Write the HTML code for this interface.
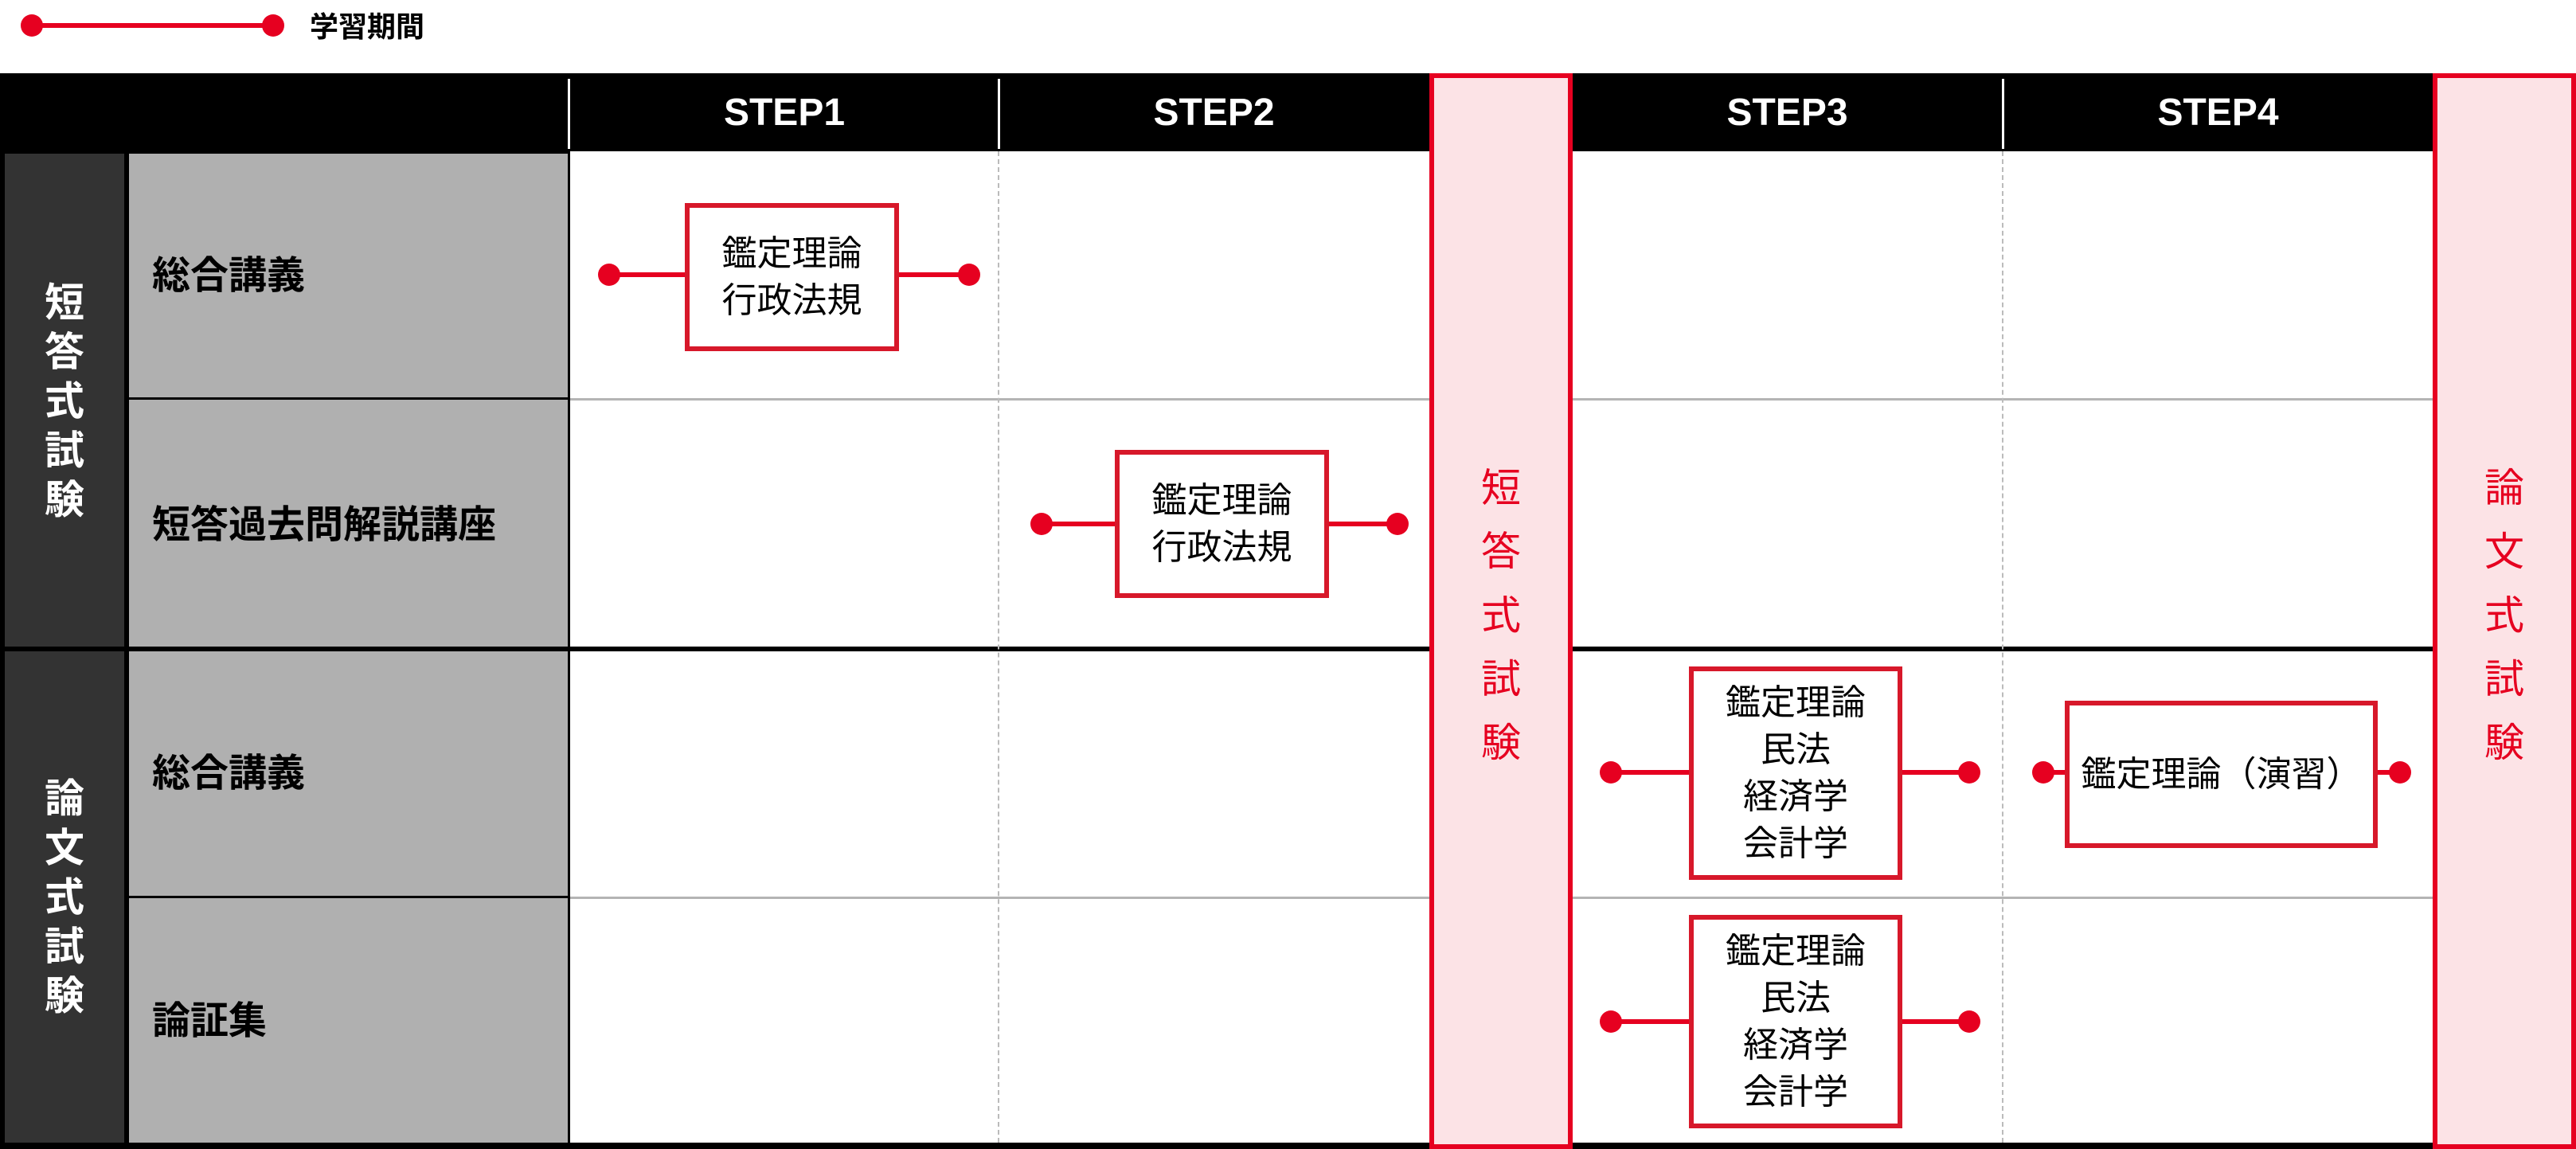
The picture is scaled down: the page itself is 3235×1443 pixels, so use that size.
<!DOCTYPE html>
<html><head><meta charset="utf-8"><style>
*{margin:0;padding:0;box-sizing:border-box}
body{width:3235px;height:1443px;position:relative;background:#fff;overflow:hidden;font-family:"Liberation Sans","Noto Sans CJK JP",sans-serif}
div{position:absolute}
.hd{top:92px;height:98px;background:#000}
.step{top:92px;height:98px;color:#fff;font-weight:bold;font-size:48px;display:flex;align-items:center;justify-content:center}
.wsep{top:99px;height:88px;width:3px;background:#fff}
.dark{background:#333}
.gray{background:#b0b0b0}
.lbl{color:#000;font-weight:bold;font-size:48px;left:191px;line-height:60px}
.vt{color:#fff;font-weight:bold;font-size:50px;line-height:62px;width:60px;left:51px;text-align:center}
.hl{height:3px;background:#b4b4b4}
.dash{width:0;border-left:2px dashed #bbb}
.band{top:92px;height:1351px;width:180px;background:#fce3e6;border:6px solid #e60020}
.bt{color:#e60020;font-size:50px;line-height:80px;width:100%;text-align:center;left:0}
.box{border:6px solid #d7182a;background:#fff;color:#000;font-size:44px;line-height:59px;display:flex;align-items:center;justify-content:center;text-align:center}
.ln{height:6px;background:#e60020}
.dot{width:28px;height:28px;border-radius:50%;background:#e60020}
</style></head><body>
<!-- legend -->
<div class="ln" style="left:40px;top:29px;width:303px"></div>
<div class="dot" style="left:26px;top:18px"></div>
<div class="dot" style="left:329px;top:18px"></div>
<div style="left:389px;top:12px;font-size:36px;font-weight:bold;line-height:44px">学習期間</div>

<!-- table background black -->
<div style="left:0;top:92px;width:3235px;height:1351px;background:#000"></div>
<div class="step" style="left:716px;width:538px">STEP1</div>
<div class="step" style="left:1254px;width:541px">STEP2</div>
<div class="step" style="left:1974px;width:541px">STEP3</div>
<div class="step" style="left:2515px;width:541px">STEP4</div>
<div class="wsep" style="left:713px"></div>
<div class="wsep" style="left:1253px"></div>
<div class="wsep" style="left:2514px"></div>

<!-- left columns -->
<div class="dark" style="left:6px;top:193px;width:150px;height:619px"></div>
<div class="dark" style="left:6px;top:818px;width:150px;height:617px"></div>
<div class="gray" style="left:162px;top:193px;width:551px;height:306px"></div>
<div class="gray" style="left:162px;top:502px;width:551px;height:310px"></div>
<div class="gray" style="left:162px;top:818px;width:551px;height:307px"></div>
<div class="gray" style="left:162px;top:1128px;width:551px;height:307px"></div>

<!-- white grid area -->
<div style="left:716px;top:190px;width:2340px;height:622px;background:#fff"></div>
<div style="left:716px;top:818px;width:2340px;height:617px;background:#fff"></div>
<div class="hl" style="left:716px;top:500px;width:2340px"></div>
<div class="hl" style="left:716px;top:1126px;width:2340px"></div>
<div class="dash" style="left:1253px;top:190px;height:1245px"></div>
<div class="dash" style="left:2514px;top:190px;height:1245px"></div>

<!-- vertical labels -->
<div class="vt" style="top:349px">短<br>答<br>式<br>試<br>験</div>
<div class="vt" style="top:972px">論<br>文<br>式<br>試<br>験</div>

<div class="lbl" style="top:317px">総合講義</div>
<div class="lbl" style="top:630px">短答過去問解説講座</div>
<div class="lbl" style="top:942px">総合講義</div>
<div class="lbl" style="top:1253px">論証集</div>

<!-- red bands -->
<div class="band" style="left:1795px"><div class="bt" style="top:475px">短<br>答<br>式<br>試<br>験</div></div>
<div class="band" style="left:3055px"><div class="bt" style="top:475px">論<br>文<br>式<br>試<br>験</div></div>

<!-- box1 -->
<div class="ln" style="left:765px;top:342px;width:452px"></div>
<div class="dot" style="left:751px;top:331px"></div>
<div class="dot" style="left:1203px;top:331px"></div>
<div class="box" style="left:860px;top:255px;width:269px;height:186px">鑑定理論<br>行政法規</div>
<!-- box2 -->
<div class="ln" style="left:1308px;top:655px;width:447px"></div>
<div class="dot" style="left:1294px;top:644px"></div>
<div class="dot" style="left:1741px;top:644px"></div>
<div class="box" style="left:1400px;top:565px;width:269px;height:186px">鑑定理論<br>行政法規</div>
<!-- box3 -->
<div class="ln" style="left:2023px;top:967px;width:450px"></div>
<div class="dot" style="left:2009px;top:956px"></div>
<div class="dot" style="left:2459px;top:956px"></div>
<div class="box" style="left:2121px;top:837px;width:268px;height:268px">鑑定理論<br>民法<br>経済学<br>会計学</div>
<!-- box4 -->
<div class="ln" style="left:2566px;top:967px;width:448px"></div>
<div class="dot" style="left:2552px;top:956px"></div>
<div class="dot" style="left:3000px;top:956px"></div>
<div class="box" style="left:2593px;top:880px;width:393px;height:185px">鑑定理論（演習）</div>
<!-- box5 -->
<div class="ln" style="left:2023px;top:1280px;width:450px"></div>
<div class="dot" style="left:2009px;top:1269px"></div>
<div class="dot" style="left:2459px;top:1269px"></div>
<div class="box" style="left:2121px;top:1149px;width:268px;height:268px">鑑定理論<br>民法<br>経済学<br>会計学</div>
</body></html>
